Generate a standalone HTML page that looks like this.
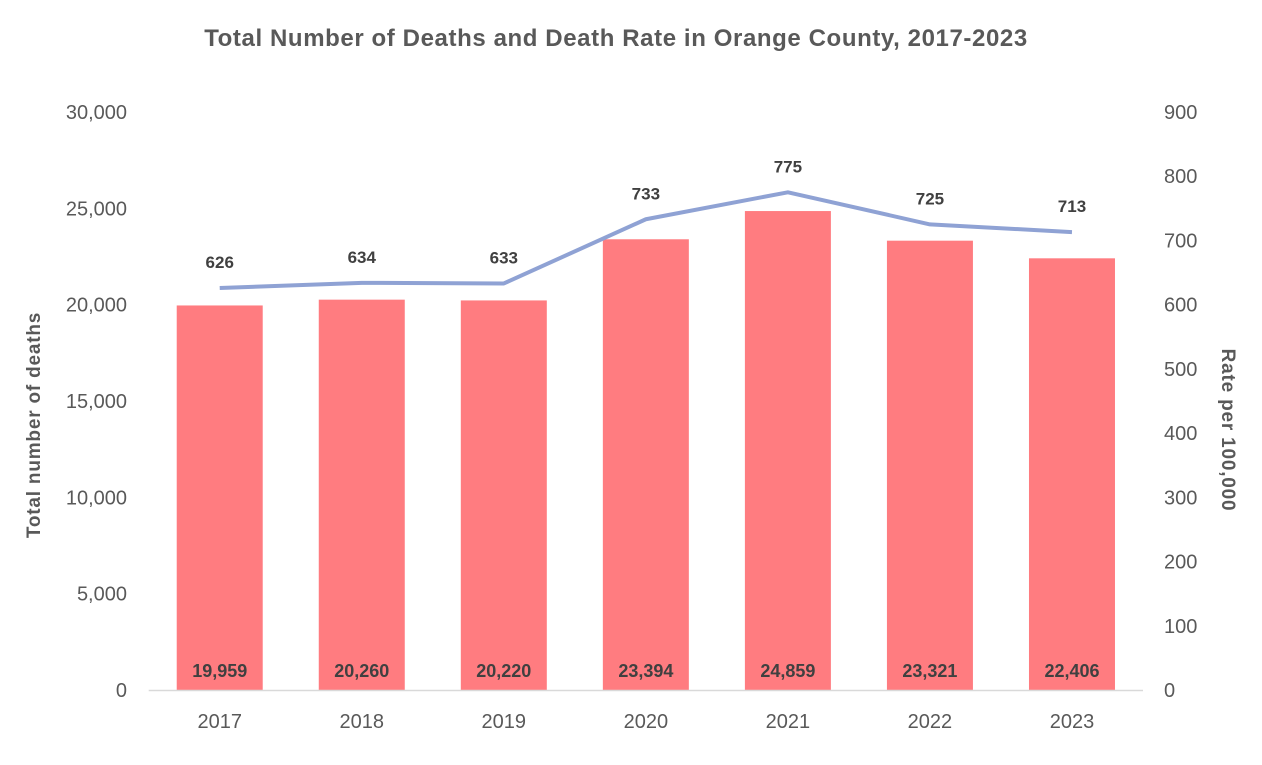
<!DOCTYPE html>
<html><head><meta charset="utf-8"><style>
body{margin:0;background:#fff;}
svg text{font-family:"Liberation Sans",sans-serif;}
</style></head><body>
<svg id="chart" width="1262" height="760">
<text x="616" y="46" text-anchor="middle" font-size="24" font-weight="bold" fill="#595959" letter-spacing="0.6">Total Number of Deaths and Death Rate in Orange County, 2017-2023</text>
<text transform="translate(40,425) rotate(-90)" text-anchor="middle" font-size="19" font-weight="bold" fill="#595959" letter-spacing="0.8">Total number of deaths</text>
<text transform="translate(1222,430) rotate(90)" text-anchor="middle" font-size="19" font-weight="bold" fill="#595959" letter-spacing="0.8">Rate per 100,000</text>
<g id="g"></g>
</svg>
<script>
const years=["2017","2018","2019","2020","2021","2022","2023"];
const deaths=[19959,20260,20220,23394,24859,23321,22406];
const rates=[626,634,633,733,775,725,713];
const leftTicks=[0,5000,10000,15000,20000,25000,30000];
const rightTicks=[0,100,200,300,400,500,600,700,800,900];
const NS="http://www.w3.org/2000/svg";
const g=document.getElementById('g');
const x0=148.7,x1=1143,y0=690,y1=112;
const bw=(x1-x0)/years.length;
const xc=i=>x0+bw*(i+0.5);
const yL=v=>y0-(v/30000)*(y0-y1);
const yR=v=>y0-(v/900)*(y0-y1);
const fmt=v=>v.toLocaleString('en-US');
function el(t,a,txt){const e=document.createElementNS(NS,t);for(const k in a)e.setAttribute(k,a[k]);if(txt!=null)e.textContent=txt;g.appendChild(e);return e;}
leftTicks.forEach(v=>{const t=el('text',{x:127,y:yL(v)+7,'text-anchor':'end','font-size':20,fill:'#595959'},fmt(v));

});
rightTicks.forEach(v=>{const t=el('text',{x:1164,y:yR(v)+7,'font-size':20,fill:'#595959'},fmt(v));

});
deaths.forEach((v,i)=>{const r=el('rect',{x:xc(i)-43,y:yL(v),width:86,height:y0-yL(v),fill:'#FF7C80'});


const t=el('text',{x:xc(i),y:677,'text-anchor':'middle','font-size':18,'font-weight':'bold',fill:'#404040'},fmt(v));


const xl=el('text',{x:xc(i),y:728,'text-anchor':'middle','font-size':20,fill:'#595959'},years[i]);

});
const ax=el('line',{x1:x0,x2:x1,y1:y0+0.5,y2:y0+0.5,stroke:'#D9D9D9','stroke-width':1.5});


const pl=el('polyline',{points:rates.map((v,i)=>xc(i)+','+yR(v)).join(' '),fill:'none',stroke:'#8FA2D4','stroke-width':4,'stroke-linejoin':'round'});


rates.forEach((v,i)=>{const t=el('text',{x:xc(i),y:yR(v)-20,'text-anchor':'middle','font-size':17,'font-weight':'bold',fill:'#404040'},v);

});
</script>
</body></html>
